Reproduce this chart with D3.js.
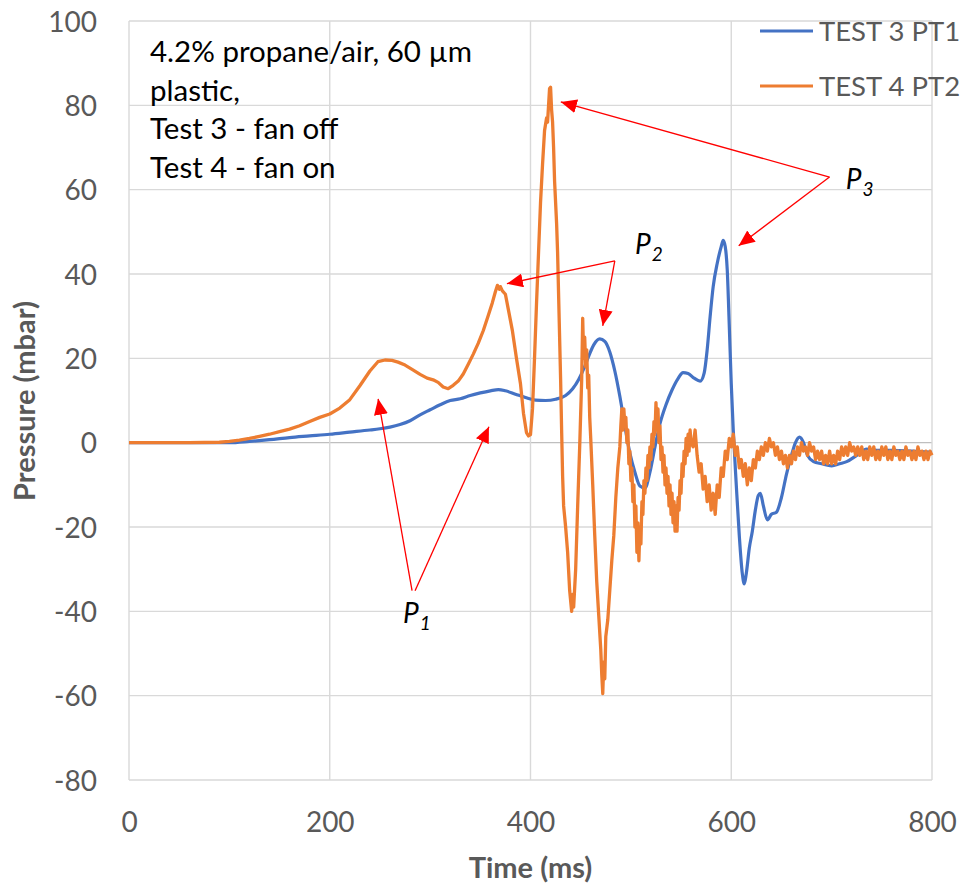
<!DOCTYPE html>
<html><head><meta charset="utf-8">
<script src="https://cdn.jsdelivr.net/npm/d3@7"></script>
<style>body{margin:0;background:#fff}svg{display:block}text{font-family:Lato,"Open Sans",sans-serif}</style>
</head><body><svg id="c" width="960" height="885"></svg>
<script>
// ---- data ----
const xTicks = [0, 200, 400, 600, 800];
const yTicks = [-80, -60, -40, -20, 0, 20, 40, 60, 80, 100];
const seriesNames = ["TEST 3 PT1", "TEST 4 PT2"];
const seriesColors = ["#4472C4", "#ED7D31"];
const noteLines = ["4.2% propane/air, 60 µm", "plastic,", "Test 3 - fan off", "Test 4 - fan on"];
// TEST 3 PT1 [time ms, pressure mbar]
const test3 = [[0,0],[100,0],[120,0.3],[140,0.7],[160,1.2],[180,1.6],[200,2.0],[220,2.5],[240,3.0],[250,3.3],[260,3.7],[270,4.3],[280,5.2],[290,6.6],[300,7.8],[310,9.0],[320,10.0],[330,10.4],[340,11.2],[350,11.8],[360,12.3],[368,12.6],[375,12.3],[385,11.5],[395,10.7],[405,10.1],[415,10.0],[425,10.3],[435,11.2],[442,12.8],[448,15.0],[453,17.5],[458,20.5],[463,23.2],[469,24.6],[474,24.0],[479,21.5],[484,17.0],[489,11.0],[494,4.0],[499,-2.5],[504,-7.0],[509,-10.3],[514,-10.8],[519,-7.0],[524,-1.0],[529,4.5],[535,9.0],[541,12.5],[547,15.2],[552,16.6],[557,16.4],[563,15.3],[569,14.6],[573,16.5],[576,22],[579,30],[582,37],[586,42.5],[590,46.5],[592,48],[594,46.5],[596,41],[598,28],[600,14],[602,3],[605,-10],[608,-22],[611,-31],[613,-33.5],[615,-31],[618,-25],[621,-21],[624,-16],[627,-12.5],[629,-12],[632,-15],[636,-18.3],[640,-17],[645,-16.5],[650,-13],[655,-7.5],[660,-3],[664,0],[668,1.3],[672,0],[676,-3],[682,-4.5],[690,-5],[700,-5.5],[708,-5],[715,-4.5],[725,-3],[735,-1.5],[745,-1.8],[760,-1.8],[780,-2.0],[800,-2.3]];
// TEST 4 PT2 [time ms, pressure mbar]
const test4 = [[0,0],[60,0],[90,0.1],[100,0.3],[110,0.6],[120,1.0],[130,1.5],[140,2.0],[150,2.6],[160,3.2],[170,4.0],[180,5.0],[190,6.0],[200,6.8],[210,8.2],[220,10.2],[230,13.5],[240,17.0],[248,19.2],[255,19.6],[262,19.5],[268,19.1],[275,18.4],[282,17.4],[290,16.2],[297,15.3],[303,14.9],[308,14.3],[313,13.2],[318,12.8],[323,13.6],[328,14.6],[333,16.3],[338,18.6],[343,21.0],[348,23.6],[353,26.6],[358,30.2],[362,33.2],[365,35.8],[367,37.3],[369,36.4],[370,37.0],[372,36.0],[375,35.2],[378,31.5],[382,26.5],[386,20.0],[390,14.0],[393,7.0],[396,2.4],[398,1.6],[400,1.9],[402,8],[404,20],[406,33],[408,45],[410,57],[412,66],[414,74],[416,77],[417,76],[418,80],[419,84],[420,84.3],[421,79],[422,76],[423,70],[424,62],[426,52],[427,45],[429,25],[430,15],[431,3],[432,-8],[433,-15],[435,-20],[437,-26],[439,-35],[441,-40],[442,-36],[443,-39],[445,-30],[447,-15],[449,-1],[451,15],[452,29.5],[453,20],[454,25],[455,18],[456,22],[457,13],[458,16],[459,6],[460,1],[462,-10],[464,-22],[466,-33],[468,-41],[470,-49],[471,-55],[472,-59.5],[473,-52],[474,-56],[475,-46],[477,-42],[479,-35],[481,-28],[483,-22],[485,-13],[487,-6],[489,-1],[490,4],[491,8],[492,3],[493,8],[494,4],[495,6],[496,0],[497,3],[498,-5],[499,-2],[500,-9],[501,-6],[502,-14],[503,-10],[504,-20],[505,-15],[506,-26],[507,-19],[508,-28],[509,-20],[510,-24],[511,-14],[512,-17],[513,-9],[514,-12],[515,-6],[516,-9],[517,-3],[518,-6],[519,-1],[520,-4],[521,2],[522,-1],[523,5],[524,2],[525,9.5],[526,3],[527,8],[528,0],[529,4],[530,-4],[531,-1],[532,-7],[533,-3],[534,-10],[535,-6],[536,-12],[537,-8],[538,-15],[539,-10],[540,-17],[541,-12],[542,-19],[543,-14],[544,-21],[545,-15],[546,-21],[547,-13],[548,-16],[549,-9],[550,-12],[551,-5],[552,-8],[553,-2],[554,-5],[555,1],[556,-3],[557,2],[558,-2],[559,3],[560,0],[562,-1],[564,3],[566,-3],[568,-7],[570,-5],[572,-11],[574,-8],[576,-14],[578,-10],[580,-16],[582,-12],[584,-17],[586,-10],[588,-13],[590,-6],[592,-8],[594,-2],[596,-4],[598,1],[600,-1],[602,2],[604,-3],[606,-1],[608,-6],[610,-4],[612,-8],[614,-5],[616,-10],[618,-6],[620,-9],[622,-4],[624,-6],[626,-2],[628,-4],[630,-1],[632,-3],[634,0],[636,-2],[638,1],[640,-1],[642,0],[644,-3],[646,-1],[648,-4],[650,-2],[652,-5],[654,-3],[656,-6],[658,-3],[660,-5],[662,-2],[664,-4],[666,-1],[668,-3],[670,0],[672,-2],[674,-1],[676,-3],[678,0],[680,-2],[682,-1],[684,-4],[686,-2],[688,-4],[690,-2],[692,-5],[694,-3],[696,-5],[698,-2],[700,-5],[702,-3],[704,-5],[706,-2],[708,-4],[710,-1],[712,-3],[714,-1],[716,-3],[718,0],[720,-2],[722,-1],[724,-3],[726,-1],[728,-3],[730,-1],[732,-4],[734,-2],[736,-4],[738,-1],[740,-3],[742,-1],[744,-4],[746,-2],[748,-4],[750,-1],[752,-3],[754,-1],[756,-4],[758,-2],[760,-4],[762,-1],[764,-3],[766,-2],[768,-4],[770,-2],[772,-4],[774,-1],[776,-3],[778,-2],[780,-4],[782,-2],[784,-4],[786,-1],[788,-3],[790,-2],[792,-4],[794,-2],[796,-4],[798,-2],[800,-3]];
// annotation arrows in data units: [tailT, tailP, tipT, tipP]
const arrows = [[282,-35.1,248.2,10.4],[285,-35.1,358.6,3.8],[484,43.1,376.5,37.7],[484,43.1,472,27.7],[697.9,63.0,430.2,80.8],[697.9,63.0,607.4,46.7]];
const pLabels = [["1",273,-42.7],["2",504,44.8],["3",714,60.2]];

// ---- layout ----
const svg = d3.select("#c");
const L = 129, R = 932, T = 21, B = 780;
const x = d3.scaleLinear().domain([0, 800]).range([L, R]);
const y = d3.scaleLinear().domain([-80, 100]).range([B, T]);
const grey = "#595959";

// grid
const g = svg.append("g");
g.selectAll(".hg").data(yTicks).join("line")
  .attr("x1", L).attr("x2", R).attr("y1", d => y(d)).attr("y2", d => y(d))
  .attr("stroke", d => d === 0 ? "#BFBFBF" : "#D9D9D9").attr("stroke-width", 1.4);
g.selectAll(".vg").data(xTicks).join("line")
  .attr("x1", d => x(d)).attr("x2", d => x(d)).attr("y1", T).attr("y2", B)
  .attr("stroke", "#D9D9D9").attr("stroke-width", 1.4);

// tick labels via axes
const fmt = d => String(d);
const ya = svg.append("g").attr("transform", `translate(${L - 32},0)`)
  .call(d3.axisLeft(y).tickValues(yTicks).tickFormat(fmt).tickSize(0).tickPadding(0));
ya.select(".domain").remove();
ya.selectAll("text").attr("font-size", 28).attr("fill", grey).attr("font-family", "Lato").attr("dy", "0.36em");
const xa = svg.append("g").attr("transform", `translate(0,${B + 32})`)
  .call(d3.axisBottom(x).tickValues(xTicks).tickFormat(fmt).tickSize(0).tickPadding(0));
xa.select(".domain").remove();
xa.selectAll("text").attr("font-size", 28).attr("fill", grey).attr("font-family", "Lato").attr("dy", "0.72em");

// axis titles
svg.append("text").attr("x", (L + R) / 2).attr("y", 878).attr("text-anchor", "middle")
  .attr("font-size", 29).attr("font-weight", "bold").attr("fill", grey).text("Time (ms)");
svg.append("text").attr("transform", `translate(35,401) rotate(-90)`).attr("text-anchor", "middle")
  .attr("font-size", 29).attr("font-weight", "bold").attr("fill", grey).text("Pressure (mbar)");

// series
const line = d3.line().x(d => x(d[0])).y(d => y(d[1]));
svg.append("path").datum(test3).attr("d", line.curve(d3.curveMonotoneX))
  .attr("fill", "none").attr("stroke", seriesColors[0]).attr("stroke-width", 3.2).attr("stroke-linejoin", "round");
svg.append("path").datum(test4).attr("d", d3.line().x(d => x(d[0])).y(d => y(d[1]))(test4))
  .attr("fill", "none").attr("stroke", seriesColors[1]).attr("stroke-width", 3.3).attr("stroke-linejoin", "round");

// note text
svg.append("g").selectAll("text").data(noteLines).join("text")
  .attr("x", 150).attr("y", (d, i) => 62 + i * 38.7)
  .attr("font-size", 29.5).attr("fill", "#000").text(d => d);

// legend
const lg = svg.append("g");
seriesNames.forEach((n, i) => {
  const cy = 31 + i * 55;
  lg.append("line").attr("x1", 760).attr("x2", 813).attr("y1", cy).attr("y2", cy)
    .attr("stroke", seriesColors[i]).attr("stroke-width", 3);
  lg.append("text").attr("x", 819).attr("y", cy + 10).attr("font-size", 27.5).attr("fill", grey).text(n);
});

// arrows
const defs = svg.append("defs");
defs.append("marker").attr("id", "ah").attr("viewBox", "0 0 16 14").attr("refX", 16).attr("refY", 7)
  .attr("markerWidth", 16).attr("markerHeight", 14).attr("markerUnits", "userSpaceOnUse").attr("orient", "auto")
  .append("path").attr("d", "M0,0 L16,7 L0,14 Z").attr("fill", "#FF0000");
svg.append("g").selectAll("line").data(arrows).join("line")
  .attr("x1", d => x(d[0])).attr("y1", d => y(d[1])).attr("x2", d => x(d[2])).attr("y2", d => y(d[3]))
  .attr("stroke", "#FF0000").attr("stroke-width", 1.3).attr("marker-end", "url(#ah)");

// P labels
pLabels.forEach(p => {
  const t = svg.append("text").attr("x", x(p[1])).attr("y", y(p[2])).attr("font-size", 28)
    .attr("font-style", "italic").attr("fill", "#000");
  t.append("tspan").text("P");
  t.append("tspan").attr("font-size", 19).attr("dy", 7).attr("dx", 1).text(p[0]);
});
</script></body></html>
